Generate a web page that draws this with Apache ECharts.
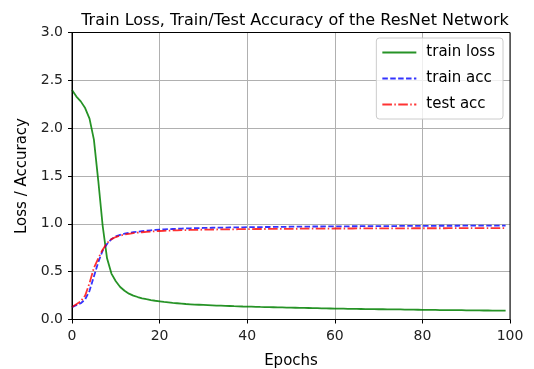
<!DOCTYPE html>
<html>
<head>
<meta charset="utf-8">
<script src="https://cdn.jsdelivr.net/npm/echarts@6/dist/echarts.min.js"></script>
<style>html,body{margin:0;padding:0;background:#fff;}#c{width:534px;height:369px;}</style>
</head>
<body>
<div id="c"></div>
<script>
const epochs = Array.from({length: 100}, (_, i) => i);
const trainLoss = [2.40,2.33,2.28,2.21,2.10,1.88,1.45,0.98,0.64,0.48,
0.40,0.34,0.30,0.27,0.25,0.235,0.222,0.212,0.203,0.196,
0.190,0.184,0.179,0.174,0.170,0.166,0.162,0.159,0.156,0.154,
0.152,0.150,0.148,0.146,0.144,0.142,0.141,0.139,0.138,0.136,
0.135,0.134,0.133,0.131,0.130,0.129,0.128,0.127,0.126,0.125,
0.124,0.123,0.122,0.121,0.120,0.119,0.118,0.117,0.116,0.115,
0.114,0.114,0.113,0.112,0.112,0.111,0.110,0.109,0.109,0.108,
0.107,0.107,0.106,0.106,0.105,0.105,0.104,0.103,0.103,0.102,
0.101,0.101,0.100,0.100,0.099,0.099,0.098,0.098,0.097,0.097,
0.096,0.096,0.095,0.095,0.094,0.094,0.093,0.093,0.092,0.092];
const trainAcc = [0.13,0.15,0.17,0.21,0.30,0.45,0.60,0.72,0.79,0.84,
0.87,0.885,0.897,0.906,0.913,0.918,0.923,0.928,0.932,0.936,
0.939,0.942,0.944,0.946,0.948,0.950,0.952,0.953,0.955,0.956,
0.957,0.958,0.959,0.960,0.961,0.961,0.962,0.963,0.963,0.964,
0.965,0.965,0.966,0.966,0.967,0.967,0.968,0.968,0.969,0.969,
0.970,0.970,0.970,0.971,0.971,0.972,0.972,0.972,0.973,0.973,
0.973,0.974,0.974,0.974,0.975,0.975,0.975,0.976,0.976,0.976,
0.976,0.977,0.977,0.977,0.977,0.978,0.978,0.978,0.978,0.979,
0.979,0.979,0.979,0.979,0.980,0.980,0.980,0.980,0.980,0.981,
0.981,0.981,0.981,0.981,0.981,0.982,0.982,0.982,0.982,0.982];
const testAcc = [0.13,0.16,0.19,0.25,0.38,0.54,0.64,0.73,0.80,0.84,
0.862,0.877,0.888,0.896,0.903,0.908,0.912,0.916,0.919,0.922,
0.925,0.927,0.929,0.931,0.932,0.934,0.935,0.936,0.937,0.938,
0.939,0.940,0.940,0.941,0.942,0.942,0.943,0.943,0.944,0.944,
0.945,0.945,0.946,0.946,0.946,0.947,0.947,0.947,0.948,0.948,
0.948,0.948,0.949,0.949,0.949,0.950,0.950,0.950,0.950,0.950,
0.951,0.951,0.951,0.951,0.951,0.952,0.952,0.952,0.952,0.952,
0.952,0.953,0.953,0.953,0.953,0.953,0.953,0.953,0.954,0.954,
0.954,0.954,0.954,0.954,0.954,0.954,0.955,0.955,0.955,0.955,
0.955,0.955,0.955,0.955,0.955,0.955,0.955,0.955,0.955,0.955];
const seriesNames = ['train loss', 'train acc', 'test acc'];
const titleText = 'Train Loss, Train/Test Accuracy of the ResNet Network';

const font = 'DejaVu Sans';
const chart = echarts.init(document.getElementById('c'), null, {renderer: 'canvas'});
const pair = arr => epochs.map((e, i) => [e, arr[i]]);
chart.setOption({
  animation: false,
  backgroundColor: '#fff',
  textStyle: {fontFamily: font},
  title: {
    text: titleText, left: 290, top: 8, textAlign: 'center',
    textStyle: {fontFamily: font, fontSize: 16, fontWeight: 'normal', color: '#000'}
  },
  grid: {left: 72, right: 24, top: 32.5, bottom: 49.5, containLabel: false, outerBoundsMode: 'none'},
  legend: {
    orient: 'vertical', right: 31, top: 38,
    padding: [7, 8, 7, 5],
    itemWidth: 34, itemHeight: 14, itemGap: 11,
    backgroundColor: 'rgba(255,255,255,0.8)',
    borderColor: '#cccccc', borderWidth: 1, borderRadius: 3,
    itemStyle: {color: 'rgba(0,0,0,0)', borderWidth: 0, opacity: 0},
    textStyle: {fontFamily: font, fontSize: 15, color: '#000', padding: [0, 0, 0, 5]},
    data: seriesNames
  },
  xAxis: {
    type: 'value', min: 0, max: 100, interval: 20,
    name: 'Epochs', nameLocation: 'middle', nameGap: 34,
    nameTextStyle: {fontFamily: font, fontSize: 15, color: '#000'},
    axisLine: {show: true, onZero: false, lineStyle: {color: '#000', width: 1}},
    axisTick: {show: true, inside: false, length: 4, lineStyle: {color: '#000'}},
    axisLabel: {fontFamily: font, fontSize: 14, color: '#222', margin: 10},
    splitLine: {show: true, lineStyle: {color: '#b0b0b0', width: 1}}
  },
  yAxis: {
    type: 'value', min: 0, max: 3, interval: 0.5,
    name: 'Loss / Accuracy', nameLocation: 'middle', nameGap: 41,
    nameTextStyle: {fontFamily: font, fontSize: 15, color: '#000'},
    axisLine: {show: true, onZero: false, lineStyle: {color: '#000', width: 1}},
    axisTick: {show: true, inside: false, length: 4, lineStyle: {color: '#000'}},
    axisLabel: {fontFamily: font, fontSize: 14, color: '#222', margin: 9,
      verticalAlignMinLabel: 'middle', verticalAlignMaxLabel: 'middle',
      formatter: v => v.toFixed(1)},
    splitLine: {show: true, lineStyle: {color: '#b0b0b0', width: 1}}
  },
  series: [
    {name: seriesNames[0], type: 'line', data: pair(trainLoss), showSymbol: false, symbol: 'none',
     lineStyle: {color: 'rgba(0,128,0,0.85)', width: 1.8}, itemStyle: {color: 'rgba(0,128,0,0.85)'}},
    {name: seriesNames[1], type: 'line', data: pair(trainAcc), showSymbol: false, symbol: 'none',
     lineStyle: {color: 'rgba(0,0,255,0.8)', width: 1.8, type: [5.5, 2.4]}, itemStyle: {color: 'rgba(0,0,255,0.8)'}},
    {name: seriesNames[2], type: 'line', data: pair(testAcc), showSymbol: false, symbol: 'none',
     lineStyle: {color: 'rgba(255,0,0,0.8)', width: 1.8, type: [9.6, 2.4, 1.5, 2.4]}, itemStyle: {color: 'rgba(255,0,0,0.8)'}}
  ],
  graphic: [
    {type: 'rect', shape: {x: 72, y: 32.5, width: 438, height: 287}, z: 100, silent: true,
     style: {fill: 'none', stroke: '#000', lineWidth: 1}}
  ]
});
</script>
</body>
</html>
